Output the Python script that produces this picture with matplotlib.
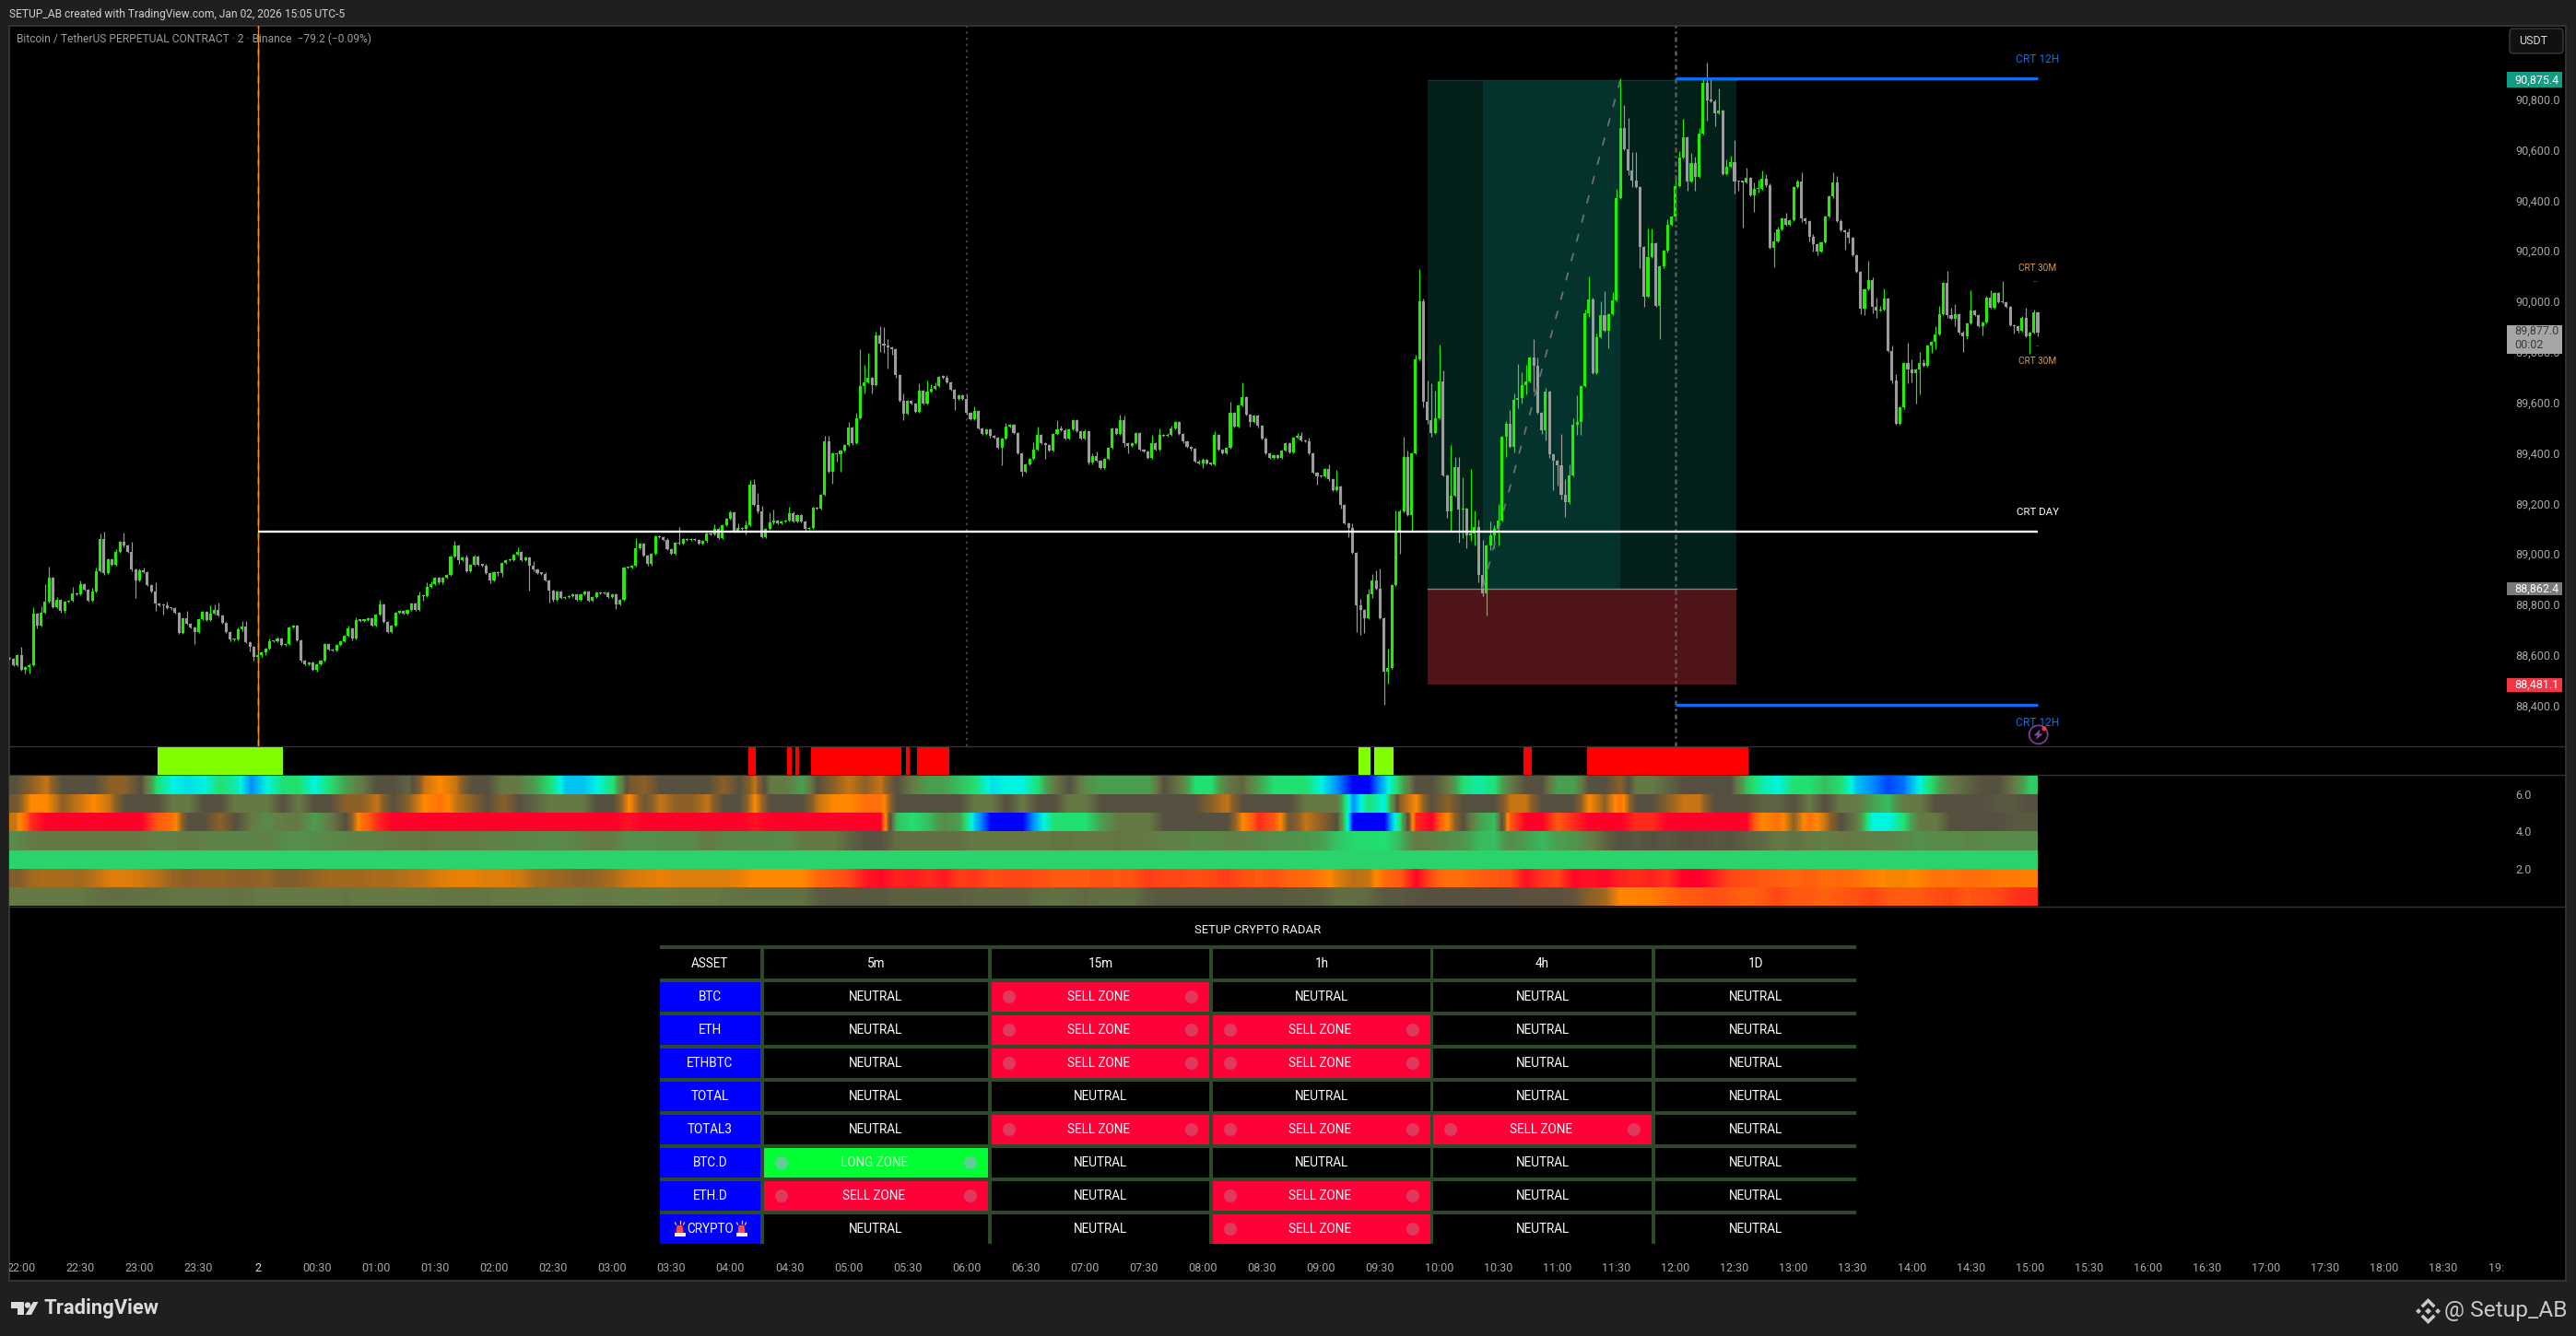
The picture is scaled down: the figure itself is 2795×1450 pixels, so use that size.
import numpy as np
import matplotlib
matplotlib.use("Agg")
import matplotlib.pyplot as plt
from matplotlib.patches import Rectangle, Ellipse, Polygon, Circle, FancyBboxPatch
from matplotlib.colors import LinearSegmentedColormap

plt.rcParams['font.family'] = ['Roboto', 'DejaVu Sans']

# ---------- data ----------
first_open = 88590
closes = [
88585,88561,88599,88542,88552,88561,88764,88716,88767,88810,88906,88788,88818,88773,88810,88816,88844,88840,88879,88858,
88816,88850,88931,89059,88925,88980,88958,89008,89049,89032,89008,88937,88895,88935,88929,88877,88852,88804,88798,88795,
88785,88784,88767,88688,88745,88725,88710,88692,88743,88772,88739,88765,88777,88757,88727,88692,88660,88663,88700,88712,
88652,88633,88593,88601,88609,88625,88654,88655,88666,88640,88644,88709,88716,88658,88576,88564,88570,88540,88564,88579,
88643,88621,88618,88640,88655,88676,88706,88666,88739,88736,88738,88745,88715,88761,88800,88731,88691,88716,88767,88776,
88765,88779,88804,88777,88838,88833,88871,88880,88907,88886,88907,88917,88990,89033,88974,88986,88931,88956,88990,88956,
88955,88925,88895,88929,88923,88964,88976,88977,88998,89008,88977,88986,88953,88937,88923,88922,88895,88856,88820,88850,
88826,88830,88834,88840,88820,88840,88850,88815,88828,88849,88844,88846,88828,88840,88800,88818,88946,88945,88953,89022,
89041,88992,88959,89001,89069,89066,89057,89019,89001,89044,89041,89059,89055,89059,89054,89041,89050,89080,89077,89101,
89063,89114,89138,89165,89089,89102,89099,89114,89275,89195,89167,89066,89099,89123,89132,89120,89128,89132,89161,89128,
89154,89128,89099,89102,89183,89180,89234,89446,89326,89398,89396,89409,89431,89500,89440,89537,89664,89679,89697,89669,
89865,89833,89825,89819,89809,89707,89606,89555,89606,89594,89564,89646,89594,89642,89655,89664,89700,89699,89679,89649,
89615,89628,89612,89557,89533,89566,89497,89476,89493,89466,89461,89420,89457,89505,89511,89478,89399,89326,89354,89376,
89412,89471,89438,89432,89410,89475,89493,89491,89457,89493,89529,89487,89457,89484,89360,89387,89369,89340,89375,89421,
89496,89476,89529,89438,89427,89437,89478,89414,89405,89381,89437,89412,89470,89469,89473,89498,89522,89476,89444,89424,
89415,89364,89359,89371,89357,89356,89471,89414,89399,89420,89559,89505,89588,89621,89551,89523,89549,89506,89458,89398,
89381,89391,89381,89409,89438,89403,89460,89469,89448,89447,89398,89323,89308,89306,89336,89296,89252,89266,89195,89122,
89102,89004,88798,88779,88745,88840,88895,88861,88745,88535,88549,88877,89087,89168,89384,89155,89398,89770,89999,89602,
89530,89478,89537,89683,89311,89168,89230,89344,89177,89179,89074,89082,89106,88917,88844,89034,89074,89099,89132,89464,
89515,89424,89610,89617,89668,89683,89778,89745,89559,89489,89643,89395,89369,89351,89234,89205,89311,89511,89522,89664,
89953,90007,89716,89858,89945,89883,89949,90004,90408,90686,90603,90517,90479,90453,90216,90017,90175,90230,89983,90137,
90199,90303,90335,90455,90569,90649,90473,90546,90494,90664,90864,90794,90793,90745,90755,90502,90533,90551,90475,90473,
90472,90488,90421,90445,90446,90485,90461,90213,90238,90284,90329,90303,90320,90451,90473,90329,90317,90256,90226,90198,
90232,90335,90414,90471,90319,90281,90275,90250,90183,90117,89970,90047,90084,89979,89965,89967,90011,89804,89685,89515,
89579,89756,89731,89715,89731,89756,89746,89825,89839,89870,89950,90074,89946,89930,89949,89877,89861,89912,89962,89946,
89901,89916,90013,89974,90031,89995,89996,89977,89906,89901,89885,89936,89861,89876,89956,89877]

wick_up = {3:35,6:25,8:25,9:70,10:42,12:12,16:25,18:15,21:15,22:15,23:22,24:28,27:10,29:35,31:40,33:8,34:12,37:35,40:15,
45:30,51:30,52:22,53:30,58:8,59:22,60:22,66:10,68:8,86:12,88:10,94:18,104:12,106:15,107:12,113:20,116:12,118:8,129:18,
133:18,159:40,170:62,179:15,183:8,185:18,187:18,188:18,189:20,190:45,191:22,193:43,194:45,198:25,199:8,207:20,208:20,
213:22,215:20,216:145,217:70,218:100,219:5,220:15,221:35,222:65,223:25,227:30,231:30,233:45,234:15,235:15,237:10,238:10,
243:20,245:18,253:12,260:30,261:32,265:5,266:38,267:15,273:8,275:12,276:20,282:22,283:20,290:35,292:28,295:10,302:10,
303:10,306:14,310:45,313:58,327:10,328:12,330:14,335:18,337:68,341:20,343:24,345:21,346:27,347:39,348:80,350:77,352:84,
353:8,354:80,355:24,357:18,358:128,359:12,360:84,361:146,362:109,363:146,364:44,366:200,367:40,368:40,369:124,371:254,
372:66,373:29,374:137,376:55,377:15,378:66,380:11,381:55,382:26,383:135,384:51,385:66,387:73,388:32,390:15,394:124,
395:62,396:44,397:26,398:106,400:15,401:91,402:7,403:15,404:55,405:95,407:33,408:36,409:197,410:91,411:123,412:72,
413:112,416:112,417:57,421:21,423:45,424:27,425:73,427:40,428:25,429:22,430:18,431:79,432:88,434:88,436:30,437:25,
438:86,441:40,443:24,444:35,445:33,446:18,448:36,449:12,451:20,454:10,455:36,458:10,463:38,464:25,467:12,472:75,473:10,
474:35,475:15,476:40,478:20,479:28,482:80,483:40,485:45,486:15,489:30,490:32,492:45,493:30,494:40,496:5,498:80,499:5,
502:10,503:30,506:85,512:40,514:10}
wick_dn = {4:14,5:25,7:10,13:7,24:8,32:70,37:30,39:35,47:50,61:18,62:15,64:10,65:8,74:5,78:5,87:8,96:5,105:18,114:15,
116:5,122:10,124:10,125:15,132:98,137:48,138:10,154:18,187:20,202:8,209:48,210:30,211:70,214:8,217:30,219:35,221:35,
222:30,223:85,224:20,225:8,227:25,240:45,252:70,257:18,263:55,283:15,284:30,303:18,315:20,332:35,335:6,338:14,340:34,
342:107,343:100,344:57,346:13,349:131,350:49,353:85,356:66,359:21,360:15,361:15,365:26,366:79,368:131,369:114,370:51,
371:24,372:49,373:29,374:11,375:88,376:18,377:53,378:66,380:80,382:22,383:33,384:22,385:36,387:102,389:15,390:40,391:15,
392:117,393:80,394:18,395:58,396:7,398:40,399:51,401:15,406:69,411:18,412:28,414:84,415:38,419:134,426:36,428:55,431:78,
433:51,438:49,439:36,440:180,443:67,444:15,446:10,448:79,455:15,456:10,457:20,458:30,459:15,466:70,467:20,470:20,471:25,
473:27,474:30,478:10,482:55,483:35,484:120,485:100,488:30,489:30,492:10,494:30,495:8,496:60,497:10,501:35,509:30,510:10,
513:70,515:15}
first_candle = -63      # candles are numbered from midnight, one per two minutes

price_ticks = [88400,88600,88800,89000,89200,89400,89600,89800,90000,90200,90400,90600,90800]
crt_day = 89089
crt_12h_high = 90881
crt_12h_low = 88403
trade_top, trade_entry, trade_stop = 90875.4, 88862.4, 88481.1
trade_start, trade_core_start, trade_core_end, trade_end = 297, 311, 346, 375.4
diag_k = [311, 346]
diag_price = [88862.4, 90875.4]
session_marks = [0, 180, 360]
last_close, countdown = 89877.0, "00:02"

green_spans = [(-25.5,6.5),(279.5,282.5),(283.5,288.5)]
red_spans = [(124.5,126.5),(134.5,135.5),(136.5,137.5),(140.5,163.5),(164.5,165.5),(167.5,175.5),(321.5,323.5),(337.5,378.5)]

strip1 = [6,7,7.5,6,6,6,7,7,6,3,2,1.8,2,3,2.5,1,2,3,3,2,3,4,5,6,6,5.5,7.5,8,7.5,6,6,5,5,4,3,1.5,1.5,2,3,6.5,7,6,6,6,6,7,6,7.5,5,5,4,6,7,7.5,7,7.5,6,5,4,4,3.5,3,1.8,2,
2,3,5,6,4.5,4,4,4,4,6,5,3,3,5,5.5,4,3,3,3,2,1,0,0,1.5,3.5,6,6,5,3,2.5,3,5,6,6,4,4,6,6,7,5,5,5.5,6,6,6,6,3.5,2.5,2,3,3,3.5,3,1.5,1,0.5,0.8,2,3.5,5,5.5,6,6,5,3.3]
strip2 = [6.5,8,8,7,7.5,8,7.5,6,6,6,5,5,6,6,5,5,5,6,5,6,6,7,7,7.5,6,7,8,8.5,7.5,7,6,7,6,5.5,5,5,5,6,6,8,6.5,7.5,7,7,7.5,6,6,8,6,6,6,7.5,8,8,8.5,8.5,6,6,6,6,6,5,5,6,
5,6,6,5,5,6,6,6,6,6,6,6,7,7.5,6,6,6,6,5,5,5,1,3,2,7,8,6,7,6,6,6,7.5,7.5,6,6,6,8,7,8.5,6,6,7,7.5,7.5,6,6,6,5.5,5.5,6,5,6,5,5,4,3.5,5,5,6,6,6,6,5.8,5.8,6]
strip3 = [7.5,9.5,10,10,10,10,10,10,10,9,8.5,6,6,7,6,5,4.5,5,5,4,5,6,8.5,9.5,10,10,10,10,10,10,10,10,10,10,10,10,10,10,10,9.8,10,10,10,10,10,10,10,9.8,10,10,10,10,10,10,10,10,3.5,3,3.5,4.5,4,1.5,0,0,
0,1.5,3,3,3,4,5,5,5,6,6,6,6,6,8,9.5,9,6.5,7.5,7,6,0,0,0,3,9.5,10,8,6,4,3.5,9,10,10,9,9.5,10,10,10,9.5,9.5,10,10,10,10,10,10,8,8.5,7,8.5,7.5,6,5,2,2,3,5,5,6,6,6,6,5.8,5.8]
strip4 = [4.5,5,5,5,5,5,5,5,5,4.8,4.8,5,4.8,4.7,4.7,4.7,4.8,4.5,4.4,4.5,4.6,4.7,4.8,4.8,5,5,5.1,5,4.9,5,4.8,4.8,4.7,4.6,4.5,4.6,4.8,5,4.9,4.4,4.4,4.5,4.5,4.6,5,4.7,4.6,4.6,4.6,4.5,5,5,5,5.5,5.9,5.9,5.3,5.2,5.2,5.2,5.2,5,5,5,
5,5,5.1,5.1,5,5,5.1,5,5,4.8,4.8,4.6,4.6,4.8,4.8,4.6,4.4,4.4,4.2,4,3.4,3.1,3.1,3,3.6,5,4.8,4.5,4.2,3.6,3.5,4.5,4,3.6,4,4.2,4.8,5.5,6,5.8,6,5.8,6,6.1,5.8,5.9,5.6,5.4,5,5.2,5,4.8,5,5,4.8,4.8,4.6,4.4,4.6,4.5,4.7,4.6,4.5,4.5,4.5]
strip5 = [3.2] * 129
strip6 = [6.8,7.2,7.3,7.3,7.2,7.4,7.7,7.7,7.6,7.4,7.1,7,7.1,7.1,7,7,7.1,6.8,6.9,7.1,7.2,7.2,7.2,7.3,7.3,7.4,7.5,7.7,7.8,7.8,7.7,7.7,7.6,7.3,7.2,7.1,7,7.1,7.3,7.6,7.7,7.8,7.7,7.7,7.7,7.7,7.8,8,8,8,8,8.7,9,9.2,9.7,9.9,9.6,9.7,9.5,9.7,9.3,9.4,9.1,9.2,
9.2,9.1,9,9,9,9.1,9,9.1,9.3,9.2,9.2,9.1,9.2,9.3,9.1,9,9.1,8.8,8.7,8.3,7.7,7.4,7.5,8.6,9,9.9,9.1,8.5,8.6,8.9,9,9.1,9.8,9.4,9.2,9.9,9.8,9.9,9.6,9.5,9.6,9.4,10,10,9.6,9.2,9.1,9,8.9,8.7,8.9,8.6,8.7,8.5,8.2,7.9,7.9,8.1,8.5,8.4,8.6,8.5,8.3,8.3,8.2]
strip7 = [5,5,5,5,5,5.2,5.3,5.3,5.2,5.2,5.1,5.1,5.1,5.1,5.2,5.1,5,5,5,5,5,5.1,5,5,5,5,5,5.1,5.1,5.1,5.1,5,5,5,5,4.9,5,5,5,4.9,5,4.9,5,5,5,5.1,5.2,5.2,5.2,5.2,5.2,5.7,5.8,5.8,5.8,5.8,5.6,5.6,5.6,5.6,5.6,5.5,5.5,5.5,
5.5,5.3,5.2,5.3,5.4,5.3,5.3,5.3,5.7,5.8,5.8,5.8,5.8,5.8,5.8,5.8,5.8,5.7,5.7,5.6,5.3,5.3,5.4,5.8,5.8,5.9,6,6,6,6,6,6,6.1,6.1,6.1,6.2,7,7.2,8,8.1,8.2,8.6,8.9,9,9.1,9,8.8,9,9.2,9,9,8.8,9,9.1,9.2,9,8.9,9,9.1,9.2,9,9.1,9.2,9.4,9.5]
pane_ticks = [2, 4, 6]

assets = ["BTC","ETH","ETHBTC","TOTAL","TOTAL3","BTC.D","ETH.D","CRYPTO"]
timeframes = ["5m","15m","1h","4h","1D"]
btc_row    = ["N","S","N","N","N"]
eth_row    = ["N","S","S","N","N"]
ethbtc_row = ["N","S","S","N","N"]
total_row  = ["N","N","N","N","N"]
total3_row = ["N","S","S","S","N"]
btcd_row   = ["L","N","N","N","N"]
ethd_row   = ["S","N","S","N","N"]
crypto_row = ["N","N","S","N","N"]
state_text = {"N":"NEUTRAL","S":"SELL ZONE","L":"LONG ZONE"}

time_labels = ["22:00","22:30","23:00","23:30","2","00:30","01:00","01:30","02:00","02:30","03:00","03:30","04:00","04:30",
"05:00","05:30","06:00","06:30","07:00","07:30","08:00","08:30","09:00","09:30","10:00","10:30","11:00","11:30","12:00",
"12:30","13:00","13:30","14:00","14:30","15:00","15:30","16:00","16:30","17:00","17:30","18:00","18:30","19:00"]
time_k = [-60 + 15*i for i in range(len(time_labels))]

# ---------- layout ----------
W, H = 2795, 1450
K0, KS = 279.6, 4.273
def px(v): return v * 0.72
fig = plt.figure(figsize=(W/100, H/100), dpi=100, facecolor="#1f1f1f")

def pane(x0, y0, x1, y1, z=1):
    a = fig.add_axes([x0/W, 1-y1/H, (x1-x0)/W, (y1-y0)/H], zorder=z)
    a.set_xlim((x0-K0)/KS, (x1-K0)/KS)
    a.patch.set_visible(False)
    for s in a.spines.values():
        s.set_visible(False)
    a.set_xticks([]); a.set_yticks([])
    return a

page = fig.add_axes([0,0,1,1], zorder=0); page.set_xlim(0,W); page.set_ylim(H,0); page.axis("off")
page.add_patch(Rectangle((10,27.5),2774,1362.5,fc="#000000",ec="#333333",lw=1.4))
for yy in (810,841,983.5):
    page.plot([10,2784],[yy,yy],color="#333333",lw=1)

over = fig.add_axes([0,0,1,1], zorder=5); over.set_xlim(0,W); over.set_ylim(H,0); over.axis("off"); over.patch.set_visible(False)

# ---------- main chart ----------
AXR = 2724
ax = pane(10, 28, AXR, 810, 1)
ax.set_ylim(90000-(810-327)/0.2742, 90000+(327-28)/0.2742)

c = np.array(closes, float)
o = np.r_[first_open, c[:-1]]
k = first_candle + np.arange(len(c))
up = np.array([wick_up.get(i,4) for i in range(len(c))], float)
dn = np.array([wick_dn.get(i,4) for i in range(len(c))], float)
top = np.maximum(o,c); bot = np.minimum(o,c)
GREEN, GRAY = "#22ee00", "#9c9c9c"
cols = [GREEN if a >= b else GRAY for a, b in zip(c, o)]

# trade box
ax.add_patch(Rectangle((trade_start,trade_entry),trade_end-trade_start,trade_top-trade_entry,fc="#021f1a",ec="none",zorder=1))
ax.add_patch(Rectangle((trade_core_start,trade_entry),trade_core_end-trade_core_start,trade_top-trade_entry,fc="#03332c",ec="none",zorder=1.1))
ax.add_patch(Rectangle((trade_start,trade_stop),trade_end-trade_start,trade_entry-trade_stop,fc="#4e1418",ec="none",zorder=1))
ax.plot([trade_start,trade_end],[trade_entry,trade_entry],color="#7f7f7f",lw=1,zorder=1.2)
ax.plot([trade_start,trade_end],[trade_top,trade_top],color="#0f3a33",lw=1,zorder=1.2)

ax.vlines(k, bot-dn, top+up, colors=cols, lw=0.85, zorder=3)
ax.bar(k, np.maximum(top-bot,4), bottom=bot, width=0.72, color=cols, lw=0, zorder=3.1)

ax.plot(diag_k, diag_price, color="#6f6f6f", lw=1.3, ls=(0,(5,7)), zorder=3.5)

ax.axvline(session_marks[0], color="#4a4a4a", lw=1.8, ls=(0,(3,3)), zorder=2)
ax.axvline(session_marks[0], color="#f09010", lw=1.0, zorder=2.1)
ax.axvline(session_marks[1], color="#4a4a4a", lw=1.2, ls=(0,(1.5,2.5)), zorder=2)
ax.axvline(session_marks[2], color="#5a5a5a", lw=1.8, ls=(0,(2,1.5,1,1.5)), zorder=4)

end_k = k[-1]
ax.plot([0,end_k],[crt_day,crt_day],color="#ffffff",lw=1.7,zorder=4,solid_capstyle="butt")
BLUE = "#0a6ef5"
ax.plot([360,end_k],[crt_12h_high,crt_12h_high],color=BLUE,lw=2.3,zorder=4,solid_capstyle="butt")
ax.plot([360,end_k],[crt_12h_low,crt_12h_low],color=BLUE,lw=2.3,zorder=4,solid_capstyle="butt")

kw = dict(ha="center", va="center", zorder=6)
ax.text(end_k, crt_12h_high+78, "CRT 12H", color=BLUE, fontsize=px(12), **kw)
ax.text(end_k, crt_12h_low-73, "CRT 12H", color=BLUE, fontsize=px(12), **kw)
ax.text(end_k, crt_day+76, "CRT DAY", color="#ffffff", fontsize=px(11.5), **kw)
ax.text(end_k, 90130, "CRT 30M", color="#e8963c", fontsize=px(10), **kw)
ax.text(end_k, 89763, "CRT 30M", color="#e8963c", fontsize=px(10), **kw)
ax.text(end_k-0.5, 90084, "...", color="#e8963c", fontsize=px(8), **kw)
ax.text(end_k-0.2, 89830, "..", color="#e8963c", fontsize=px(8), **kw)

ax.yaxis.tick_right()
ax.set_yticks(price_ticks)
ax.set_yticklabels([f"{p:,.1f}" for p in price_ticks], color="#a8a8a8", fontsize=px(12.5))
ax.tick_params(axis="y", length=0, pad=4)

# price-scale tags
ty = ax.get_yaxis_transform()
def xf(p): return (p-10)/(AXR-10)
def tag(price, half, fc):
    ax.add_patch(Rectangle((xf(2720), price-half), 60/(AXR-10), 2*half, transform=ty, fc=fc, ec="none", clip_on=False, zorder=8))
tag(trade_top, 31, "#0f9d83")
tag(trade_entry, 26, "#7b7b7b")
tag(trade_stop, 26, "#f23645")
ax.add_patch(Rectangle((xf(2720), 89792), 60/(AXR-10), 113, transform=ty, fc="#a6a6a6", ec="none", clip_on=False, zorder=8))
tt = dict(transform=ty, ha="left", va="center", fontsize=px(12.5), clip_on=False, zorder=9)
ax.text(xf(2728), trade_top, f"{trade_top:,.1f}", color="#ffffff", **tt)
ax.text(xf(2728), trade_entry, f"{trade_entry:,.1f}", color="#ffffff", **tt)
ax.text(xf(2728), trade_stop, f"{trade_stop:,.1f}", color="#ffffff", **tt)
ax.text(xf(2728), last_close+7, f"{last_close:,.1f}", color="#3a3a3a", **tt)
ax.text(xf(2728), last_close-52, countdown, color="#3a3a3a", **tt)

# ---------- signal row ----------
sig = pane(10, 811, AXR, 841, 1); sig.set_ylim(0,1)
sig.broken_barh([(a,b-a) for a,b in green_spans],(0,1),facecolors="#80ff00")
sig.broken_barh([(a,b-a) for a,b in red_spans],(0,1),facecolors="#ff0000")

# ---------- heat strips ----------
anchors = ["#0000ff","#0090ff","#00f5e0","#22e070","#4a9e50","#667a45","#565040","#8a6028","#ff8800","#ff5a10","#ff0028"]
heat = LinearSegmentedColormap.from_list("heat", anchors)
hp = pane(10, 842, AXR, 983, 1)
xl = hp.get_xlim()
rows = [strip7,strip6,strip5,strip4,strip3,strip2,strip1]
strip_left, strip_right = first_candle - 0.5, 451.8
for i, row in enumerate(rows):
    hp.imshow(np.array([row], float), cmap=heat, vmin=0, vmax=10, aspect="auto", interpolation="bilinear",
              extent=(strip_left, strip_right, i, i+1), origin="lower")
hp.set_xlim(*xl); hp.set_ylim(0,7)
hp.yaxis.tick_right()
hp.set_yticks(pane_ticks)
hp.set_yticklabels([f"{v:.1f}" for v in pane_ticks], color="#a8a8a8", fontsize=px(12.5))
hp.tick_params(axis="y", length=0, pad=4)

# ---------- time axis ----------
tp = pane(10, 984, 2718, 1390, 1); tp.set_ylim(1390,984)
for lab, kk in zip(time_labels, time_k):
    tp.text(kk, 1376, lab, ha="center", va="center", clip_on=True,
            color="#d8d8d8" if lab=="2" else "#a8a8a8", fontsize=px(12.5))

# ---------- table ----------
GRID = "#2f4a2a"
col_x = [(716,825),(829,1072),(1076,1312),(1316,1552),(1555,1792),(1796,2014)]
over.text(1365,1009,"SETUP CRYPTO RADAR",color="#f2f2f2",ha="center",va="center",fontsize=px(13))
for r in range(9):
    over.add_patch(Rectangle((716,1026+36*r),2014-716,4,fc=GRID,ec="none"))
for c0,c1 in zip(col_x[:-1],col_x[1:]):
    over.add_patch(Rectangle((c0[1],1030),c1[0]-c0[1],320,fc=GRID,ec="none"))
def cell_text(x,y,s,col="#ffffff"):
    over.text(x,y,s,color=col,ha="center",va="center",fontsize=px(13.5),zorder=4)
cell_text(sum(col_x[0])/2,1046,"ASSET")
for j,tf in enumerate(timeframes):
    cell_text(sum(col_x[j+1])/2,1046,tf)
states = [btc_row,eth_row,ethbtc_row,total_row,total3_row,btcd_row,ethd_row,crypto_row]
for r,(name,row) in enumerate(zip(assets,states)):
    y0 = 1066+36*r; yc = y0+16
    over.add_patch(Rectangle((col_x[0][0],y0),col_x[0][1]-col_x[0][0],32,fc="#0000ff",ec="none"))
    cell_text(sum(col_x[0])/2,yc,name)
    for j,st in enumerate(row):
        x0,x1 = col_x[j+1]
        xm = (x0+x1)/2
        if st == "N":
            cell_text(xm,yc,state_text[st])
            continue
        fc,dot,tc = ("#ff0038","#dd3a5e","#ffffff") if st=="S" else ("#00ff33","#5fcf95","#d6f8d6")
        over.add_patch(Rectangle((x0,y0),x1-x0,32,fc=fc,ec="none",zorder=2))
        over.add_patch(Ellipse((x0+19,yc),14,14,fc=dot,ec="none",zorder=3))
        over.add_patch(Ellipse((x1-19,yc),14,14,fc=dot,ec="none",zorder=3))
        cell_text(xm-2,yc,state_text[st],tc)
# siren glyphs beside CRYPTO
for xc in (737.5,804.5):
    yb = 1066+36*7+22
    over.add_patch(Polygon([(xc-4,yb-2),(xc-3,yb-10),(xc+3,yb-10),(xc+4,yb-2)],fc="#ff4a4a",ec="none",zorder=4))
    over.add_patch(Rectangle((xc-6,yb-2),12,3.5,fc="#ffe9e9",ec="none",zorder=4))
    over.plot([xc,xc],[yb-15,yb-12],color="#ffd0a0",lw=0.9,zorder=4)
    over.plot([xc-5,xc-4],[yb-13,yb-11],color="#ffd0a0",lw=0.9,zorder=4)
    over.plot([xc+5,xc+4],[yb-13,yb-11],color="#ffd0a0",lw=0.9,zorder=4)

# ---------- page furniture ----------
over.text(9.5,15,"SETUP_AB created with TradingView.com, Jan 02, 2026 15:05 UTC-5",color="#d1d1d1",ha="left",va="center",fontsize=px(12))
over.text(18,42,"Bitcoin / TetherUS PERPETUAL CONTRACT · 2 · Binance  \u221279.2 (\u22120.09%)",color="#9c9c9c",ha="left",va="center",fontsize=px(12))
over.add_patch(FancyBboxPatch((2726,34),52,21,boxstyle="round,pad=3,rounding_size=4",fc="#111111",ec="#3a3a3a",lw=1))
over.text(2733,44.5,"USDT",color="#d8d8d8",ha="left",va="center",fontsize=px(12.5))

# alert icon under the lower CRT label
ix,iy = 2211.7,797.3
over.add_patch(Circle((ix,iy),10,fc="#000000",ec="#7b3a96",lw=1.3))
over.add_patch(Polygon([(ix+2,iy-6),(ix-5,iy+1),(ix-1,iy+1),(ix-3,iy+6),(ix+5,iy-1),(ix+1,iy-1)],fc="#8a45a8",ec="none"))
over.add_patch(Circle((2218,790.7),2.6,fc="#f23645",ec="none"))

LG = "#dcdcdc"
over.add_patch(Polygon([(11.5,1413),(26,1413),(26,1427),(19,1427),(19,1419.5),(11.5,1419.5)],fc=LG,ec="none"))
over.add_patch(Circle((30,1416.5),3.2,fc=LG,ec="none"))
over.add_patch(Polygon([(36,1413),(41.5,1413),(34,1427),(27.5,1427)],fc=LG,ec="none"))
over.text(48,1420,"TradingView",color=LG,ha="left",va="center",fontsize=px(22),fontweight="bold")

LC = "#c8c8c8"
bx,by = 2634.6,1423
for dx,dy,s in ((0,0,3.5),(-10.5,0,3),(10.5,0,3)):
    over.add_patch(Polygon([(bx+dx-s,by+dy),(bx+dx,by+dy-s),(bx+dx+s,by+dy),(bx+dx,by+dy+s)],fc=LC,ec="none"))
over.add_patch(Polygon([(bx,by-14),(bx+8,by-6),(bx+5.5,by-3.5),(bx,by-9),(bx-5.5,by-3.5),(bx-8,by-6)],fc=LC,ec="none"))
over.add_patch(Polygon([(bx,by+14),(bx+8,by+6),(bx+5.5,by+3.5),(bx,by+9),(bx-5.5,by+3.5),(bx-8,by+6)],fc=LC,ec="none"))
over.text(2785.5,1423,"@ Setup_AB",color=LC,ha="right",va="center",fontsize=px(24.5))

fig.savefig("out.png", dpi=100, facecolor=fig.get_facecolor())
